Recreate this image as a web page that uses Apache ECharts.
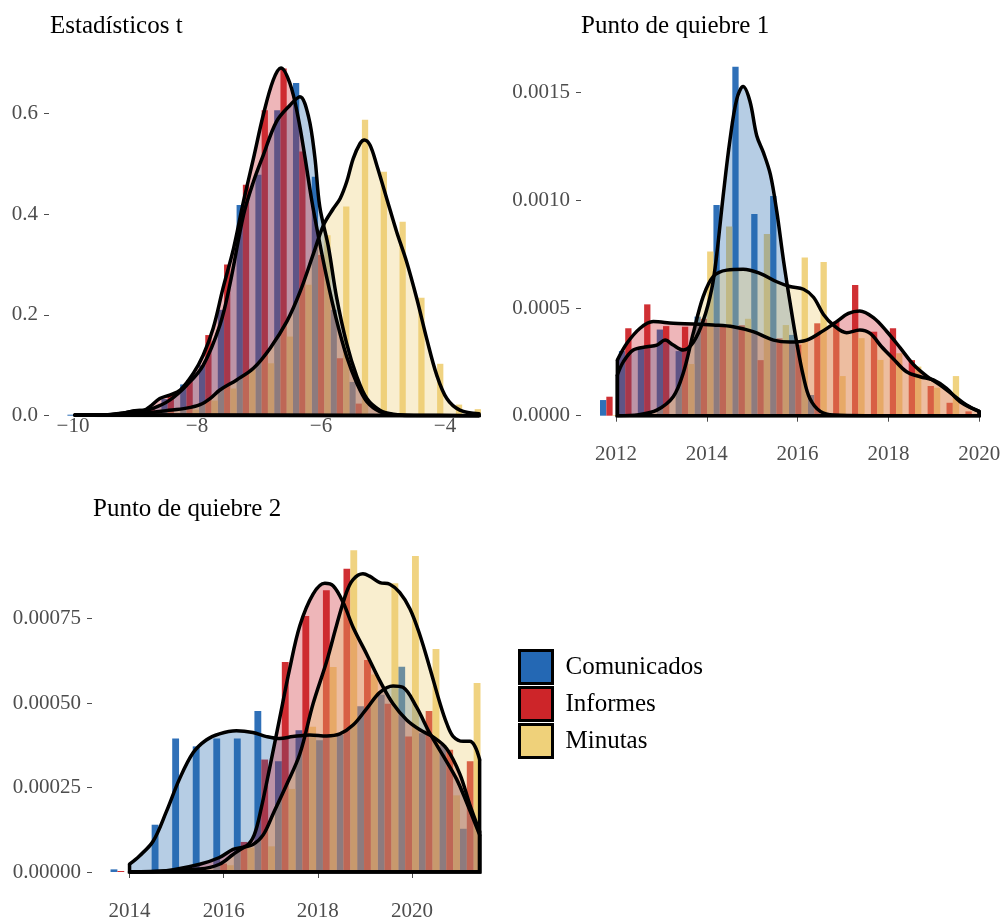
<!DOCTYPE html>
<html><head><meta charset="utf-8">
<script src="https://cdn.jsdelivr.net/npm/echarts@6/dist/echarts.min.js"></script>
<style>html,body{margin:0;padding:0;background:#fff}#c{width:1006px;height:922px}</style>
</head><body><div id="c"></div>
<script>
// ---------- categories ----------
const groups = ['Comunicados', 'Informes', 'Minutas'];
const titles = ['Estadísticos t', 'Punto de quiebre 1', 'Punto de quiebre 2'];

// ---------- tick labels ----------
const p1XTicks = [-10, -8, -6, -4];
const p1YTicks = [0, 0.2, 0.4, 0.6];
const p2XTicks = [2012, 2014, 2016, 2018, 2020];
const p2YTicks = [0, 0.0005, 0.0010, 0.0015];
const p3XTicks = [2014, 2016, 2018, 2020];
const p3YTicks = [0, 0.00025, 0.0005, 0.00075];

// ---------- panel 1: Estadísticos t (histogram bins + densities) ----------
const p1BinStart = -10.09, p1BinWidth = 0.3032;
const p1HistComunicados = [0.002,0,0,0.005,0.012,0.033,0.062,0.10,0.21,0.418,0.478,0.606,0.66,0.474,0.21,0.067,0.004,0,0,0,0,0];
const p1HistInformes    = [0,0,0.001,0.007,0.015,0.041,0.07,0.16,0.30,0.458,0.606,0.689,0.524,0.319,0.114,0.024,0.003,0,0,0,0,0];
const p1HistMinutas     = [0,0,0,0,0.002,0.004,0.012,0.03,0.054,0.094,0.104,0.157,0.26,0.358,0.415,0.587,0.484,0.385,0.234,0.103,0.022,0.013];
const p1DensComunicados = [[-9.97,0.002],[-9.6,0.001],[-9.2,0.005],[-9.0,0.01],[-8.85,0.011],[-8.7,0.015],[-8.44,0.031],[-8.17,0.06],[-7.9,0.10],[-7.63,0.18],[-7.47,0.26],[-7.25,0.398],[-7.09,0.464],[-6.93,0.517],[-6.72,0.583],[-6.5,0.616],[-6.34,0.633],[-6.2,0.593],[-6.1,0.514],[-6.02,0.415],[-5.88,0.335],[-5.75,0.236],[-5.585,0.143],[-5.42,0.077],[-5.26,0.034],[-5.05,0.011],[-4.83,0.003],[-4.5,0.0005],[-3.45,0]];
const p1DensInformes = [[-9.97,0.001],[-9.5,0.001],[-9.15,0.006],[-9.0,0.01],[-8.85,0.011],[-8.76,0.018],[-8.6,0.034],[-8.44,0.041],[-8.27,0.051],[-8.06,0.084],[-7.9,0.12],[-7.74,0.173],[-7.58,0.253],[-7.41,0.332],[-7.25,0.425],[-7.09,0.51],[-6.93,0.597],[-6.77,0.666],[-6.645,0.69],[-6.5,0.659],[-6.37,0.593],[-6.26,0.514],[-6.15,0.428],[-6.04,0.355],[-5.91,0.276],[-5.75,0.19],[-5.585,0.117],[-5.42,0.064],[-5.26,0.028],[-5.05,0.008],[-4.83,0.002],[-4.5,0.0005],[-3.45,0]];
const p1DensMinutas = [[-9.97,0.001],[-9.5,0.001],[-9.1,0.005],[-8.8,0.006],[-8.5,0.01],[-8.17,0.015],[-7.95,0.022],[-7.79,0.034],[-7.63,0.051],[-7.36,0.071],[-7.09,0.094],[-6.82,0.134],[-6.55,0.187],[-6.34,0.245],[-6.12,0.322],[-5.96,0.378],[-5.8,0.411],[-5.69,0.431],[-5.585,0.464],[-5.48,0.51],[-5.37,0.54],[-5.3,0.547],[-5.21,0.537],[-5.1,0.497],[-4.94,0.431],[-4.78,0.365],[-4.62,0.306],[-4.456,0.233],[-4.295,0.153],[-4.134,0.081],[-3.97,0.034],[-3.76,0.011],[-3.45,0.004]];

// ---------- panel 2: Punto de quiebre 1 ----------
const p2BinStart = 2011.648, p2BinWidth = 0.4163;
const p2HistComunicados = [0.0000727,0.00030,0.00031,0.00040,0.00030,0.00046,0.000978,0.00162,0.000937,0.00102,0.000375,0.000096,0,0,0,0,0,0,0,0];
const p2HistInformes    = [0.0000882,0.000406,0.000517,0.000416,0.000413,0.00045,0.00042,0.00042,0.000258,0.000359,0.00033,0.000429,0.000437,0.000607,0.00039,0.000406,0.000258,0.000138,0.00006,0.00002];
const p2HistMinutas     = [0.000003,0,0,0,0.00024,0.000762,0.000878,0.00045,0.000844,0.000421,0.000734,0.000714,0.000184,0.00036,0.000259,0.00029,0.000228,0.00013,0.000184,0];
const p2DensComunicados = [[2012.03,0.000189],[2012.16,0.00025],[2012.38,0.000305],[2012.68,0.00032],[2012.9,0.000328],[2013.08,0.000351],[2013.26,0.000328],[2013.48,0.000305],[2013.7,0.00034],[2013.92,0.00044],[2014.11,0.00059],[2014.22,0.00075],[2014.36,0.00102],[2014.51,0.00128],[2014.66,0.00147],[2014.8,0.001528],[2014.95,0.00146],[2015.1,0.0013],[2015.25,0.00122],[2015.4,0.00112],[2015.54,0.00095],[2015.69,0.00072],[2015.83,0.00053],[2015.98,0.00034],[2016.13,0.00018],[2016.27,0.00008],[2016.5,0.00002],[2016.8,0.000003],[2017.5,0],[2020.0,0]];
const p2DensInformes = [[2012.03,0.000258],[2012.24,0.000336],[2012.53,0.000406],[2012.82,0.000437],[2013.26,0.000429],[2013.7,0.000426],[2014.14,0.000421],[2014.58,0.000413],[2015.02,0.00039],[2015.47,0.000351],[2015.83,0.000342],[2016.2,0.000351],[2016.57,0.000395],[2016.86,0.000437],[2017.12,0.000475],[2017.37,0.000486],[2017.67,0.000455],[2017.96,0.000392],[2018.26,0.000315],[2018.55,0.000238],[2018.85,0.000183],[2019.14,0.000142],[2019.43,0.000096],[2019.72,0.00005],[2020.0,0.00002]];
const p2DensMinutas = [[2012.03,0],[2012.5,0.000005],[2012.9,0.000026],[2013.26,0.000088],[2013.48,0.000197],[2013.7,0.000382],[2013.92,0.000553],[2014.14,0.000646],[2014.44,0.000676],[2014.8,0.00068],[2015.17,0.000661],[2015.54,0.000622],[2015.83,0.0006],[2016.13,0.000587],[2016.35,0.00055],[2016.57,0.00047],[2016.79,0.00042],[2017.08,0.000385],[2017.37,0.000398],[2017.6,0.000382],[2017.85,0.00032],[2018.1,0.000266],[2018.4,0.000204],[2018.7,0.000181],[2018.99,0.000166],[2019.28,0.000127],[2019.58,0.000065],[2020.0,0.00002]];

// ---------- panel 3: Punto de quiebre 2 ----------
const p3BinStart = 2013.596, p3BinWidth = 0.4368;
const p3HistComunicados = [0.0000078,0,0.00014,0.000395,0.000372,0.000395,0.000395,0.000477,0.000328,0.00042,0.00039,0.000406,0.000491,0.000525,0.000608,0.000411,0.000376,0.000128];
const p3HistInformes    = [0.000003,0,0,0,0,0.000025,0.000089,0.000333,0.000622,0.000758,0.000834,0.000898,0.000628,0.000498,0.000401,0.000477,0.000362,0.000328];
const p3HistMinutas     = [0,0,0,0,0,0.00002,0.000072,0.000076,0.000246,0.00043,0.000607,0.000953,0.000585,0.000855,0.000936,0.00066,0.000227,0.00056];
const p3DensComunicados = [[2014.0,0.000023],[2014.21,0.0000475],[2014.5,0.000091],[2014.78,0.000178],[2015.06,0.000275],[2015.35,0.000353],[2015.63,0.000391],[2015.91,0.000409],[2016.27,0.000418],[2016.62,0.000413],[2016.91,0.000401],[2017.19,0.000395],[2017.47,0.000401],[2017.83,0.000406],[2018.19,0.000403],[2018.47,0.000409],[2018.75,0.000435],[2019.04,0.000484],[2019.32,0.000532],[2019.6,0.000551],[2019.81,0.000547],[2020.1,0.000488],[2020.38,0.000411],[2020.67,0.000343],[2020.95,0.000275],[2021.16,0.000207],[2021.44,0.00011]];
const p3DensInformes = [[2014.0,0],[2014.78,0.000004],[2015.49,0.000023],[2015.91,0.000043],[2016.2,0.000067],[2016.48,0.000077],[2016.65,0.00011],[2016.8,0.00019],[2016.98,0.00031],[2017.19,0.000455],[2017.4,0.0006],[2017.62,0.00073],[2017.9,0.000823],[2018.15,0.000855],[2018.33,0.000847],[2018.54,0.000798],[2018.75,0.000725],[2019.04,0.000645],[2019.32,0.000566],[2019.6,0.000498],[2019.89,0.00045],[2020.17,0.000421],[2020.45,0.0004],[2020.74,0.000365],[2021.02,0.00029],[2021.23,0.0002],[2021.44,0.00012]];
const p3DensMinutas = [[2014.0,0],[2015.49,0.000009],[2015.91,0.000023],[2016.2,0.000052],[2016.42,0.000072],[2016.62,0.000081],[2016.84,0.00011],[2017.05,0.000172],[2017.33,0.000256],[2017.62,0.00035],[2017.9,0.000498],[2018.19,0.000624],[2018.4,0.000731],[2018.61,0.000828],[2018.75,0.000866],[2018.96,0.000883],[2019.1,0.000876],[2019.32,0.000857],[2019.53,0.000852],[2019.74,0.000828],[2019.96,0.000779],[2020.17,0.000702],[2020.38,0.000605],[2020.6,0.000498],[2020.74,0.00044],[2020.88,0.000401],[2021.09,0.000387],[2021.23,0.000387],[2021.34,0.000372],[2021.44,0.000333]];

// ---------- styling ----------
const barColors  = ['#2468b4', '#cd2529', '#efd17a'];
const fillColors = ['#2166ac', '#cc2229', '#eccb6c'];
const FONT = '"Liberation Serif", "DejaVu Serif", serif';
const TICK_COLOR = '#4d4d4d';

const panels = [
  { grid:{left:49, top:67.4, width:452.7, height:348.3}, xMin:-10.387, xMax:-3.085, yMax:0.691,
    xTicks:p1XTicks, yTicks:p1YTicks, yDec:1, xOffset:0, xMargin:0, xTickShow:false,
    binStart:p1BinStart, binWidth:p1BinWidth,
    hist:[p1HistComunicados,p1HistInformes,p1HistMinutas], dens:[p1DensComunicados,p1DensInformes,p1DensMinutas] },
  { grid:{left:581, top:66.8, width:416, height:348.9}, xMin:2011.229, xMax:2020.392, yMax:0.00162,
    xTicks:p2XTicks, yTicks:p2YTicks, yDec:4, xOffset:17, xMargin:11, xTickShow:true,
    binStart:p2BinStart, binWidth:p2BinWidth,
    hist:[p2HistComunicados,p2HistInformes,p2HistMinutas], dens:[p2DensComunicados,p2DensInformes,p2DensMinutas] },
  { grid:{left:92, top:549.5, width:407.5, height:328.5}, xMin:2013.202, xMax:2021.862, yMax:0.000955,
    xTicks:p3XTicks, yTicks:p3YTicks, yDec:5, xOffset:16, xMargin:13, xTickShow:true,
    binStart:p3BinStart, binWidth:p3BinWidth,
    hist:[p3HistComunicados,p3HistInformes,p3HistMinutas], dens:[p3DensComunicados,p3DensInformes,p3DensMinutas] }
];

const grids = [], xAxes = [], yAxes = [], series = [];
panels.forEach((p, pi) => {
  grids.push(Object.assign({containLabel:false}, p.grid));
  xAxes.push({
    type:'value', gridIndex:pi, min:p.xMin, max:p.xMax, offset:p.xOffset,
    axisLine:{show:false}, splitLine:{show:false},
    axisTick:{show:p.xTickShow, customValues:p.xTicks, length:6, lineStyle:{color:TICK_COLOR, width:1}},
    axisLabel:{customValues:p.xTicks, margin:p.xMargin, color:TICK_COLOR, fontSize:21, fontFamily:FONT,
      formatter: v => String(Math.round(v)).replace('-', '\u2212')}
  });
  yAxes.push({
    type:'value', gridIndex:pi, min:0, max:p.yMax,
    axisLine:{show:false}, splitLine:{show:false},
    axisTick:{show:true, customValues:p.yTicks, length:5, lineStyle:{color:TICK_COLOR, width:1}},
    axisLabel:{customValues:p.yTicks, margin:11, color:TICK_COLOR, fontSize:21, fontFamily:FONT,
      formatter: v => v.toFixed(p.yDec)}
  });
  // histogram bars (dodged within each bin)
  p.hist.forEach((vals, gi) => {
    const bw = p.binWidth, col = barColors[gi];
    series.push({
      type:'custom', name:groups[gi], xAxisIndex:pi, yAxisIndex:pi, silent:true,
      itemStyle:{color:col},
      encode:{x:0, y:1},
      data: vals.map((v, i) => [p.binStart + i * bw, v]),
      renderItem: (params, api) => {
        const x0 = api.value(0) + gi * bw / 3;
        const a = api.coord([x0, api.value(1)]);
        const b = api.coord([x0 + bw / 3, 0]);
        return {type:'rect', shape:{x:a[0], y:a[1], width:b[0]-a[0], height:b[1]-a[1]},
                style:{fill:col, opacity:0.95}};
      }
    });
  });
  // densities (fill + outline), drawn in group order above the bars
  p.dens.forEach((pts, gi) => {
    const first = pts[0], last = pts[pts.length - 1];
    series.push({
      type:'line', name:groups[gi] + ' densidad', xAxisIndex:pi, yAxisIndex:pi, silent:true,
      data:pts, smooth:0.35, symbol:'none',
      lineStyle:{color:'#000', width:3.5, cap:'round', join:'round'},
      areaStyle:{color:fillColors[gi], opacity:0.33}
    });
    series.push({
      type:'line', name:groups[gi] + ' borde', xAxisIndex:pi, yAxisIndex:pi, silent:true,
      data:[[first[0], first[1]], [first[0], 0], [last[0], 0], [last[0], last[1]]],
      smooth:false, symbol:'none',
      lineStyle:{color:'#000', width:3.5, cap:'butt', join:'miter'}
    });
  });
});

const chart = echarts.init(document.getElementById('c'), null, {renderer:'canvas'});
chart.setOption({
  animation:false,
  backgroundColor:'#fff',
  title:[
    {text:titles[0], left:50, top:14, padding:0, textStyle:{fontFamily:FONT, fontSize:25, fontWeight:'normal', color:'#000'}},
    {text:titles[1], left:581, top:14, padding:0, textStyle:{fontFamily:FONT, fontSize:25, fontWeight:'normal', color:'#000'}},
    {text:titles[2], left:93, top:497, padding:0, textStyle:{fontFamily:FONT, fontSize:25, fontWeight:'normal', color:'#000'}}
  ],
  legend:{
    orient:'vertical', left:518, top:649, padding:0, itemWidth:33, itemHeight:33, itemGap:1,
    selectedMode:false,
    data: groups.map((g, i) => ({name:g, icon:'rect',
      itemStyle:{color:barColors[i], borderColor:'#000', borderWidth:3}})),
    textStyle:{fontFamily:FONT, fontSize:25, color:'#000', padding:[0,0,0,8]}
  },
  grid:grids, xAxis:xAxes, yAxis:yAxes, series:series
});
</script>
</body></html>
